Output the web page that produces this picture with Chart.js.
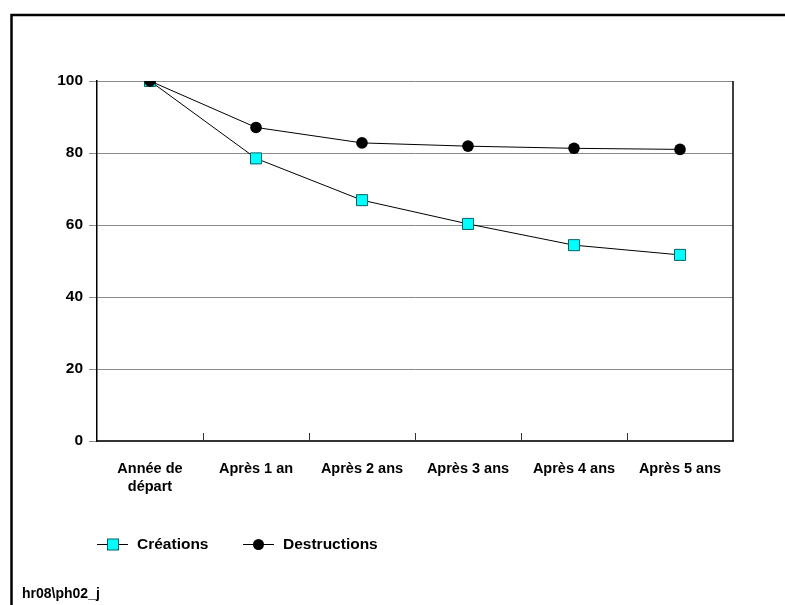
<!DOCTYPE html>
<html lang="fr">
<head>
<meta charset="utf-8">
<title>Créations et destructions</title>
<script src="https://cdn.jsdelivr.net/npm/chart.js@4/dist/chart.umd.min.js"></script>
<style>
  html, body { margin: 0; padding: 0; background: #fff; }
  canvas { display: block; }
</style>
</head>
<body>
<canvas id="chart" width="785" height="605"></canvas>
<script>
// Catégories (années) et séries en indice, base 100 l'année de départ
const LABELS = [['Année de', 'départ'], 'Après 1 an', 'Après 2 ans', 'Après 3 ans', 'Après 4 ans', 'Après 5 ans'];
const CREATIONS = [100, 78.5, 66.9, 60.3, 54.4, 51.7];
const DESTRUCTIONS = [100, 87.1, 82.8, 81.9, 81.3, 81.0];
const Y_TICKS = [0, 20, 40, 60, 80, 100];
const SOURCE = 'hr08\\ph02_j';

const FONT = '"Liberation Sans", Arial, sans-serif';

// cadre, petites graduations internes de l'axe X, bord droit, légende et source
const decor = {
  id: 'decor',
  beforeDraw(chart) {
    const ctx = chart.ctx;
    ctx.save();
    ctx.fillStyle = '#fff';
    ctx.fillRect(0, 0, chart.width, chart.height);
    ctx.strokeStyle = '#000';
    ctx.lineWidth = 2.5;
    ctx.strokeRect(11.5, 15, chart.width + 20, chart.height + 20);
    ctx.restore();
  },
  afterDatasetsDraw(chart) {
    const ctx = chart.ctx;
    const { right, top, bottom } = chart.chartArea;
    const x = chart.scales.x;
    ctx.save();
    // bord droit de la zone de tracé
    ctx.strokeStyle = '#000';
    ctx.lineWidth = 1.5;
    ctx.beginPath();
    ctx.moveTo(right, top);
    ctx.lineTo(right, bottom);
    ctx.stroke();
    // graduations entre catégories, vers l'intérieur
    ctx.strokeStyle = '#333';
    ctx.lineWidth = 1;
    for (let i = 0; i < LABELS.length - 1; i++) {
      const px = Math.round((x.getPixelForValue(i) + x.getPixelForValue(i + 1)) / 2) + 0.5;
      ctx.beginPath();
      ctx.moveTo(px, bottom - 8);
      ctx.lineTo(px, bottom);
      ctx.stroke();
    }
    ctx.restore();
  },
  afterDraw(chart) {
    const ctx = chart.ctx;
    ctx.save();
    ctx.font = 'bold 15.5px ' + FONT;
    ctx.textBaseline = 'middle';
    const y = 544;
    const entries = [
      { ds: chart.data.datasets[0], x: 97 },
      { ds: chart.data.datasets[1], x: 243 }
    ];
    entries.forEach(({ ds, x }) => {
      ctx.strokeStyle = '#000';
      ctx.lineWidth = 1;
      ctx.beginPath();
      ctx.moveTo(x, y + 0.5);
      ctx.lineTo(x + 31, y + 0.5);
      ctx.stroke();
      const cx = x + 15.5;
      ctx.fillStyle = ds.pointBackgroundColor;
      ctx.strokeStyle = ds.pointBorderColor;
      if (ds.pointStyle === 'rect') {
        ctx.fillRect(cx - 5, y - 5, 11, 11);
        ctx.strokeRect(cx - 5, y - 5, 11, 11);
      } else {
        ctx.beginPath();
        ctx.arc(cx, y + 0.5, 5.5, 0, Math.PI * 2);
        ctx.fill();
      }
      ctx.fillStyle = '#000';
      ctx.fillText(ds.label, x + 40, y + 1);
    });
    ctx.font = 'bold 14px ' + FONT;
    ctx.textBaseline = 'alphabetic';
    ctx.fillText(SOURCE, 22, 598);
    ctx.restore();
  }
};

new Chart(document.getElementById('chart'), {
  type: 'line',
  data: {
    labels: LABELS,
    datasets: [
      {
        label: 'Créations',
        data: CREATIONS,
        borderColor: '#000',
        borderWidth: 1,
        pointStyle: 'rect',
        pointRadius: 7.8,
        pointBackgroundColor: '#00ffff',
        pointBorderColor: '#006464',
        pointBorderWidth: 1,
        tension: 0,
        order: 1
      },
      {
        label: 'Destructions',
        data: DESTRUCTIONS,
        borderColor: '#000',
        borderWidth: 1,
        pointStyle: 'circle',
        pointRadius: 5.8,
        pointBackgroundColor: '#000',
        pointBorderColor: '#000',
        pointBorderWidth: 0,
        tension: 0,
        order: 0
      }
    ]
  },
  options: {
    responsive: false,
    devicePixelRatio: 1,
    animation: false,
    layout: { padding: { left: 0, top: 81, right: 52, bottom: 0 } },
    plugins: {
      legend: { display: false },
      tooltip: { enabled: false }
    },
    scales: {
      x: {
        type: 'category',
        offset: true,
        grid: { display: false, drawTicks: false },
        border: { display: true, color: '#333', width: 2 },
        ticks: {
          color: '#000',
          padding: 19,
          maxRotation: 0,
          autoSkip: false,
          font: { family: FONT, size: 14.5, weight: 'bold', lineHeight: 1.25 }
        },
        afterFit(s) { s.height = 164; }
      },
      y: {
        min: 0,
        max: 100,
        afterBuildTicks(s) { s.ticks = Y_TICKS.map(v => ({ value: v })); },
        grid: { color: '#8a8a8a', lineWidth: 1, tickLength: 8, drawTicks: true },
        border: { display: true, color: '#000', width: 1.5 },
        ticks: {
          color: '#000',
          padding: 6,
          font: { family: FONT, size: 15.5, weight: 'bold' }
        },
        afterFit(s) { s.width = 97; }
      }
    }
  },
  plugins: [decor]
});
</script>
</body>
</html>
